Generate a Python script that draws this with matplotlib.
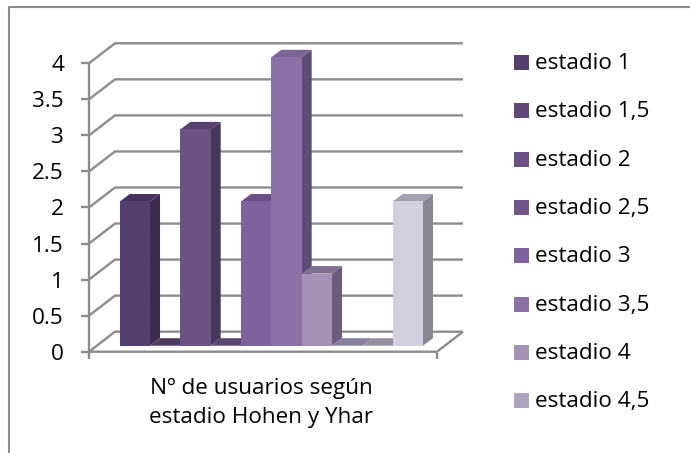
#Chart of users per Hohen y Yahr stage, fake 3D columns like the Excel one
import matplotlib
matplotlib.use('Agg')
import matplotlib.pyplot as plt
from matplotlib.lines import Line2D
from matplotlib.patches import Polygon, Rectangle

plt.rcParams['font.family'] = ['Open Sans', 'DejaVu Sans']

#Data
STAGES = ['estadio 1', 'estadio 1,5', 'estadio 2', 'estadio 2,5', 'estadio 3',
          'estadio 3,5', 'estadio 4', 'estadio 4,5', 'estadio 5', 'sin estadio']
USERS = [2, 0, 3, 0, 2, 4, 1, 0, 0, 2]
FRONT = ['#553f6e', '#5f4878', '#6b5284', '#6f5689', '#7d629e',
         '#8a72a8', '#a391b6', '#aea4c0', '#bdb4cc', '#d3cfde']
SIDE = ['#3b2b4f', '#3f2f53', '#46365a', '#4a3960', '#55436f',
        '#5d4c74', '#6b5c7c', '#787088', '#807a8c', '#8a8792']
TOP = ['#46345c', '#4c3a62', '#57436e', '#5a4672', '#684f86',
       '#7a6594', '#80708f', '#8a7f9a', '#96909f', '#a4a0ae']
LEGEND_SHOWN = 8
YTICKS = [0, 0.5, 1, 1.5, 2, 2.5, 3, 3.5, 4]
YLABELS = ['0', '0.5', '1', '1.5', '2', '2.5', '3', '3.5', '4']
XLABEL = 'Nº de usuarios según\nestadio Hohen y Yhar'

W, H = 690, 453
GREY = '#8c8c8c'
FS = 16.2
#pixels
LEFT, RIGHT, BASE, TOP_Y = 89.0, 437.0, 351.7, 63.3
SLOT = 30.33
BAR_X0 = 30.7 - 7.8
WALL_DX, WALL_DY = 26.0, 20.0     #depth of the box
BAR_DX, BAR_DY = 10.0, 7.5        #depth of one bar
PLANE_DX, PLANE_DY = 7.8, 6.0     #where the bars stand on the floor

fig = plt.figure(figsize=(W / 100, H / 100), dpi=100)
fig.patch.set_facecolor('white')
ax = fig.add_axes([LEFT / W, 1 - BASE / H, (RIGHT - LEFT) / W, (BASE - TOP_Y) / H])
ax.set_xlim(0, (RIGHT - LEFT) / SLOT)
ax.set_ylim(0, 4)
ax.patch.set_visible(False)
for s in ax.spines.values():
    s.set_visible(False)

#pixel depth -> data units
ux = 1 / SLOT
uy = 4 / (BASE - TOP_Y)
xmax = (RIGHT - LEFT) / SLOT

#walls and gridlines
line = dict(color=GREY, lw=1.7, solid_capstyle='butt', clip_on=False, zorder=1)
wx, wy = WALL_DX * ux, WALL_DY * uy
for t in YTICKS:
    ax.plot([0, wx, xmax + wx], [t, t + wy, t + wy], **line)
ax.plot([0, 0], [0, 4], **line)
ax.plot([0, xmax, xmax + wx], [0, 0, wy], **line)
#tick stubs
for t in YTICKS:
    ax.plot([-8 * ux, 0], [t, t], **line)
ax.plot([0, 0], [0, -7 * uy], **line)
ax.plot([xmax, xmax], [0, -7 * uy], **line)

#columns, left to right so the next one hides the side of the last
px, py = PLANE_DX * ux, PLANE_DY * uy
bx, by = BAR_DX * ux, BAR_DY * uy
x0 = BAR_X0 * ux
for i, v in enumerate(USERS):
    l = x0 + i + px
    r = l + 1
    b = py
    t = v + py
    ax.add_patch(Polygon([(r, b), (r + bx, b + by), (r + bx, t + by), (r, t)],
                         fc=SIDE[i], ec='none', clip_on=False, zorder=3))
    ax.add_patch(Polygon([(l, t), (l + bx, t + by), (r + bx, t + by), (r, t)],
                         fc=TOP[i], ec='none', clip_on=False, zorder=3))
    if v > 0:
        ax.add_patch(Rectangle((l, b), 1, v, fc=FRONT[i], ec='none', clip_on=False, zorder=3))

ax.set_xticks([])
ax.set_yticks(YTICKS)
ax.set_yticklabels(YLABELS, fontsize=FS, color='black')
ax.tick_params(axis='y', length=0, pad=18)

fig.text(261 / W, 1 - 403 / H, XLABEL, ha='center', va='center', fontsize=FS,
         linespacing=1.5, multialignment='center', color='black')

#legend by hand so spacing follows the original
for i in range(LEGEND_SHOWN):
    y = 1 - (62.5 + i * 48.3) / H
    fig.add_artist(Rectangle((514 / W, y - 7.5 / H), 15 / W, 15 / H, fc=FRONT[i], ec='none',
                             transform=fig.transFigure))
    fig.text(535 / W, y - 1 / H, STAGES[i], fontsize=FS, va='center', ha='left', color='black')

#chart frame, only top and left are inside the picture
fig.add_artist(Line2D([9 / W, 9 / W, 1], [0, 1 - 7 / H, 1 - 7 / H], color=GREY, lw=1.5,
                      transform=fig.transFigure))

fig.savefig('out.png', dpi=100)
